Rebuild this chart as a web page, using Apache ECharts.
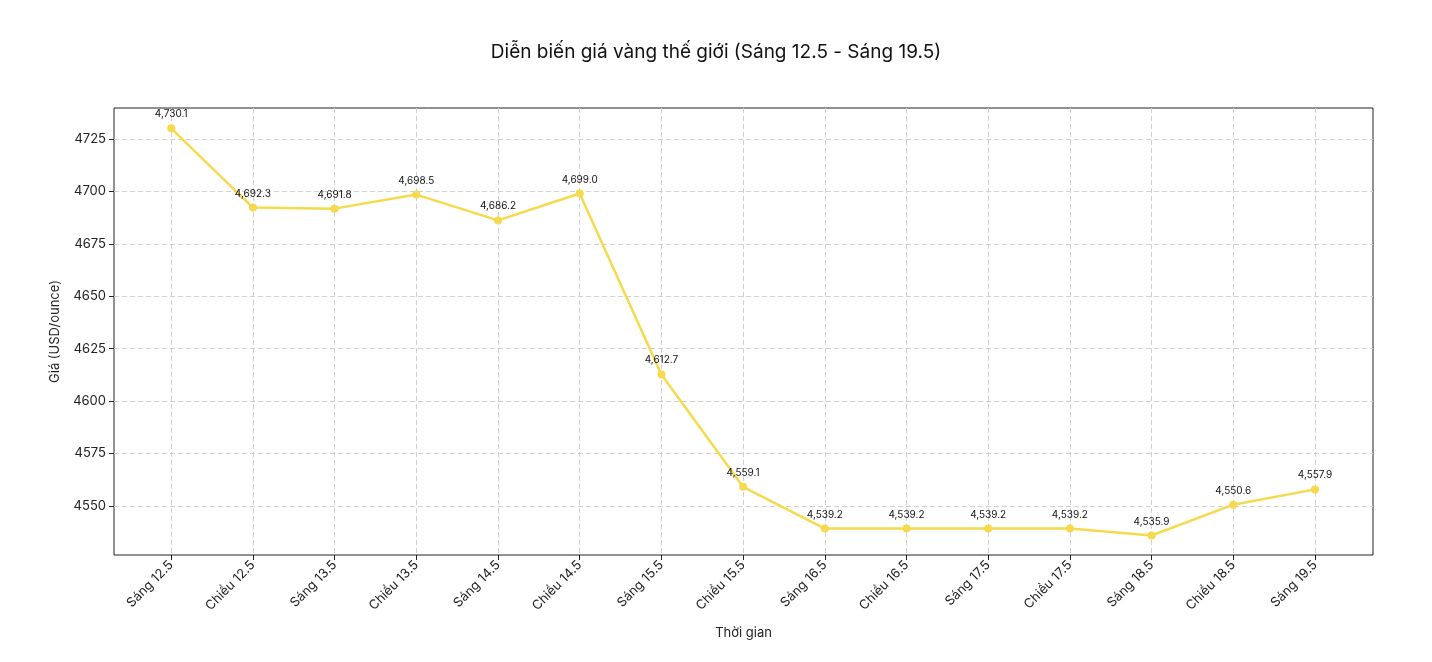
<!DOCTYPE html>
<html><head><meta charset="utf-8">
<script src="https://cdn.jsdelivr.net/npm/echarts@6/dist/echarts.min.js"></script>
<style>html,body{margin:0;padding:0;background:#fff}#c{width:1432px;height:662px}</style>
</head><body><div id="c"></div>
<script>
const categories=["Sáng 12.5","Chiều 12.5","Sáng 13.5","Chiều 13.5","Sáng 14.5","Chiều 14.5","Sáng 15.5","Chiều 15.5","Sáng 16.5","Chiều 16.5","Sáng 17.5","Chiều 17.5","Sáng 18.5","Chiều 18.5","Sáng 19.5"];
const prices=[4730.1,4692.3,4691.8,4698.5,4686.2,4699.0,4612.7,4559.1,4539.2,4539.2,4539.2,4539.2,4535.9,4550.6,4557.9];
const yTicks=[4550,4575,4600,4625,4650,4675,4700,4725];
const xIdx=categories.map((c,i)=>i);
const font='Inter, "Noto Sans", sans-serif';
const chart=echarts.init(document.getElementById('c'));
chart.setOption({
  animation:false,
  title:{text:'Diễn biến giá vàng thế giới (Sáng 12.5 - Sáng 19.5)',left:'center',top:38,textStyle:{fontFamily:font,fontSize:19,fontWeight:'normal',color:'#111'}},
  grid:{left:114,right:59,top:108,bottom:107,show:true,borderColor:'#222',borderWidth:1},
  xAxis:{type:'value',min:-0.7,max:14.71,name:'Thời gian',nameLocation:'middle',nameGap:72,
    nameTextStyle:{fontFamily:font,fontSize:13,color:'#222'},
    axisLine:{show:false,onZero:false},
    axisTick:{show:true,customValues:xIdx,length:5,lineStyle:{color:'#222'}},
    axisLabel:{customValues:xIdx,rotate:45,fontFamily:font,fontSize:13,color:'#222',margin:8,formatter:v=>categories[Math.round(v)]},
    splitLine:{show:true,lineStyle:{color:'#d0d0d0',type:[5,3]}}},
  yAxis:{type:'value',min:4526.6,max:4739.8,name:'Giá (USD/ounce)',nameLocation:'middle',nameGap:52,
    nameTextStyle:{fontFamily:font,fontSize:13,color:'#222'},
    axisLine:{show:false,onZero:false},
    axisTick:{show:true,customValues:yTicks,length:5,lineStyle:{color:'#222'}},
    axisLabel:{customValues:yTicks,fontFamily:font,fontSize:13,color:'#222',margin:8,formatter:v=>String(v)},
    splitLine:{show:true,lineStyle:{color:'#d0d0d0',type:[5,3]}}},
  series:[{type:'line',data:prices.map((p,i)=>[i,p]),symbol:'circle',symbolSize:8,
    lineStyle:{color:'#f6d94c',width:2.5},itemStyle:{color:'#f6d94c'},
    label:{show:true,position:'top',distance:5,fontFamily:font,fontSize:10,color:'#111',
      formatter:p=>p.value[1].toLocaleString('en-US',{minimumFractionDigits:1,maximumFractionDigits:1})}}]
});
</script></body></html>
